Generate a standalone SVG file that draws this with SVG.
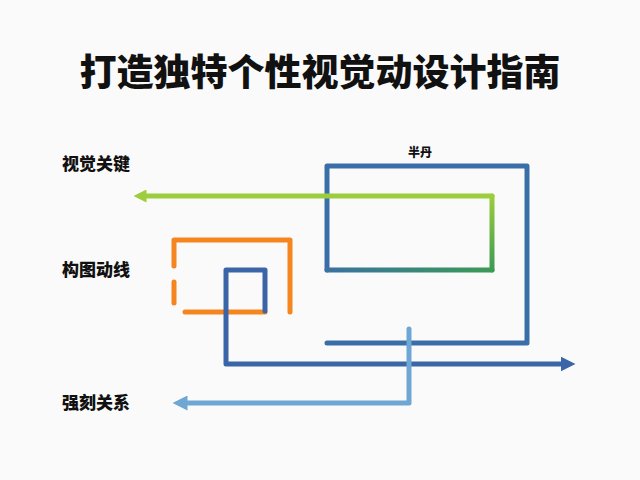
<svg xmlns="http://www.w3.org/2000/svg" width="640" height="480" viewBox="0 0 640 480">
<style>
text{font-family:"Noto Sans CJK SC","Noto Sans",sans-serif;font-weight:900;fill:#111}
.l{fill:none;stroke-width:5;stroke-linejoin:round;stroke-linecap:round}
.lab{font-size:17px}
</style>
<defs>
<marker id="ab" viewBox="0 0 10 10" refX="5" refY="5" markerWidth="3" markerHeight="3" orient="auto"><path d="M0,0L10,5L0,10z" fill="#3a66a8"/></marker>
<marker id="alb" viewBox="0 0 10 10" refX="5" refY="5" markerWidth="3" markerHeight="3" orient="auto"><path d="M0,0L10,5L0,10z" fill="#6ea6d4"/></marker>
<marker id="ag" viewBox="0 0 10 10" refX="5" refY="5" markerWidth="2.6" markerHeight="2.6" orient="auto"><path d="M0,0L10,5L0,10z" fill="#9ccd3c"/></marker>
<linearGradient id="gv" gradientUnits="userSpaceOnUse" x1="0" y1="270" x2="0" y2="196"><stop offset="0" stop-color="#3c9a55"/><stop offset="1" stop-color="#9ccd3c"/></linearGradient>
<linearGradient id="gh" gradientUnits="userSpaceOnUse" x1="327" y1="0" x2="492" y2="0"><stop offset="0" stop-color="#3a72a0"/><stop offset="1" stop-color="#3c9a55"/></linearGradient>
</defs>
<rect width="640" height="480" fill="#fafafa"/>
<text x="320" y="86" font-size="37" text-anchor="middle">打造独特个性视觉动设计指南</text>
<g id="labels">
<text class="lab" x="62" y="170">视觉关键</text>
<text class="lab" x="62" y="276">构图动线</text>
<text class="lab" x="62" y="409">强刻关系</text>
<text x="420" y="157" font-size="12" text-anchor="middle">半丹</text>
</g>
<g id="connectors">
<path class="l" stroke="#3a6ea8" d="M327,343H527V166H327V270"/>
<path class="l" stroke="url(#gh)" d="M327,270H492"/>
<path class="l" stroke="url(#gv)" d="M492,270V196"/>
<path class="l" stroke="#9ccd3c" d="M492,196H140" marker-end="url(#ag)"/>
<path class="l" stroke="#f5861f" d="M174,266V240H290V312"/>
<path class="l" stroke="#f5861f" d="M174,282V303"/>
<path class="l" stroke="#f5861f" d="M185,312H265"/>
<path class="l" stroke="#3a66a8" d="M265,311V270H226V364H568" marker-end="url(#ab)"/>
<path class="l" stroke="#6ea6d4" d="M409,329V403H180" marker-end="url(#alb)"/>
</g>
</svg>
